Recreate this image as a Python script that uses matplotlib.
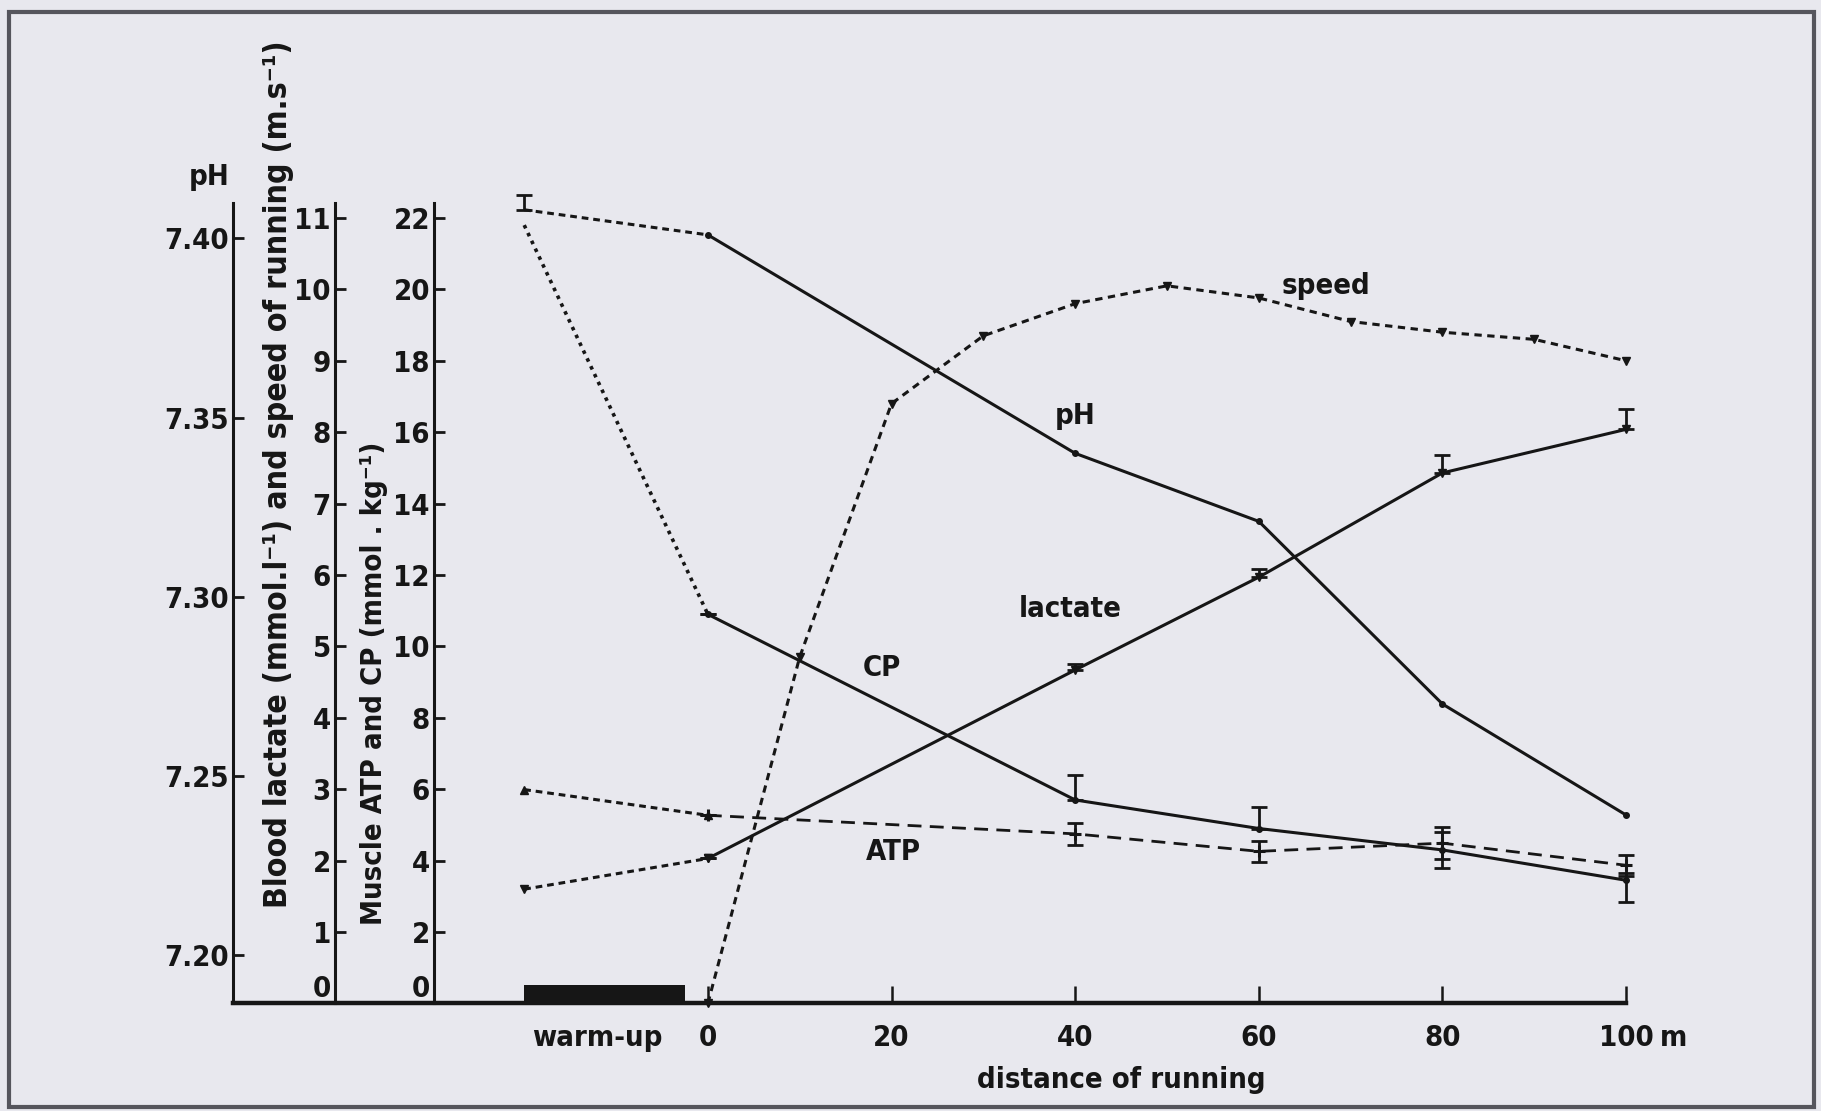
import matplotlib.pyplot as plt
from matplotlib.patches import Rectangle

plt.rcParams['font.family'] = ['DejaVu Sans']
plt.rcParams['font.stretch'] = 'condensed'
plt.rcParams['font.weight'] = 'bold'

# --- data ---
warmup_x = -20                      # where the warm-up values sit on the distance axis
warmup_bar = [-20, -2.5]
dist = [0, 40, 60, 80, 100]
speed_dist = [0, 10, 20, 30, 40, 50, 60, 70, 80, 90, 100]

ph_warmup = 7.408
ph_warmup_err = 0.004
ph = [7.401, 7.340, 7.321, 7.270, 7.239]

lactate_warmup = 1.6
lactate = [2.03, 4.67, 5.97, 7.43, 8.04]
lactate_err = [0.0, 0.08, 0.12, 0.25, 0.28]

speed = [0, 4.85, 8.4, 9.35, 9.8, 10.05, 9.88, 9.55, 9.4, 9.3, 9.0]

cp_warmup = 21.8
cp = [10.9, 5.7, 4.9, 4.3, 3.45]
cp_err_lo = [0, 0, 0, 0.5, 0.6]
cp_err_hi = [0, 0.7, 0.6, 0.5, 0.2]

atp_warmup = 5.99
atp = [5.27, 4.75, 4.26, 4.49, 3.87]
atp_err = [0, 0.3, 0.3, 0.45, 0.3]

ink = '#161616'
bg = '#e8e8ee'
fs = 21

fig = plt.figure(figsize=(18.21, 11.11), dpi=100, facecolor=bg)
ax = fig.add_axes([0.128, 0.0968, 0.765, 0.7205])   # pH axis
ax.patch.set_visible(False)
ax_lac = ax.twinx()                                  # lactate / speed
ax_atp = ax.twinx()                                  # ATP / CP

ax.set_xlim(-51.7, 100)
ax.set_ylim(7.1864, 7.4099)
ax_lac.set_ylim(0, 11.21)
ax_atp.set_ylim(0, 22.42)

for a, pos in [(ax, 0.0), (ax_lac, 0.0732), (ax_atp, 0.1443)]:
    for s in ['top', 'right']:
        a.spines[s].set_visible(False)
    a.spines['left'].set_visible(True)
    a.spines['left'].set_position(('axes', pos))
    a.spines['left'].set_linewidth(2.2)
    a.spines['left'].set_color(ink)
    a.yaxis.set_ticks_position('left')
    a.yaxis.set_label_position('left')
    a.tick_params(axis='y', direction='in', length=8, width=2, pad=3,
                  labelsize=fs, colors=ink)
for a in (ax_lac, ax_atp):
    a.spines['bottom'].set_visible(False)

ax.spines['bottom'].set_linewidth(3.2)
ax.spines['bottom'].set_color(ink)

ax.set_yticks([7.20, 7.25, 7.30, 7.35, 7.40])
ax.set_yticklabels(['7.20', '7.25', '7.30', '7.35', '7.40'])
ax_lac.set_yticks(range(0, 12))
ax_atp.set_yticks(range(0, 23, 2))
# the zero labels sit just above the distance axis
for a in (ax_lac, ax_atp):
    a.get_yticklabels()[0].set_va('bottom')

ax.set_xticks([0, 20, 40, 60, 80, 100])
ax.set_xticklabels(['0', '20', '40', '60', '80', '100'])
ax.tick_params(axis='x', direction='in', length=12, width=1.8, pad=15,
               labelsize=fs, colors=ink)
ax.annotate('m', xy=(100, 0), xycoords=('data', 'axes fraction'),
            xytext=(24, -15), textcoords='offset points', ha='left', va='top',
            fontsize=fs, color=ink)
ax.annotate('warm-up', xy=(-12, 0), xycoords=('data', 'axes fraction'),
            xytext=(0, -15), textcoords='offset points', ha='center', va='top',
            fontsize=fs, color=ink)
ax.annotate('distance of running', xy=(45, 0), xycoords=('data', 'axes fraction'),
            xytext=(0, -55), textcoords='offset points', ha='center', va='center',
            fontsize=fs, color=ink)

# warm-up bar on the distance axis
ax_lac.fill_between(warmup_bar, 0, 0.26, color=ink, lw=0)

# pH
ax.plot([warmup_x, dist[0]], [ph_warmup, ph[0]], color=ink, lw=2.2,
        dashes=(2.2, 1.6), clip_on=False)
ax.plot(dist, ph, color=ink, lw=2.2, marker='o', ms=4, clip_on=False)
ax.errorbar([warmup_x], [ph_warmup], yerr=[[0], [ph_warmup_err]], fmt='none',
            ecolor=ink, elinewidth=2, capsize=6, capthick=2, clip_on=False)

# CP and ATP
ax_atp.plot([warmup_x, dist[0]], [cp_warmup, cp[0]], color=ink, lw=2.6,
            dashes=(1.0, 1.4), clip_on=False)
ax_atp.plot(dist, cp, color=ink, lw=2.2, marker='o', ms=4, clip_on=False)
ax_atp.errorbar(dist, cp, yerr=[cp_err_lo, cp_err_hi], fmt='none', ecolor=ink,
                elinewidth=2, capsize=6, capthick=2, clip_on=False)

ax_atp.plot([warmup_x, dist[0]], [atp_warmup, atp[0]], color=ink, lw=2.2,
            dashes=(2.2, 1.6), marker='^', ms=6, clip_on=False)
ax_atp.plot(dist, atp, color=ink, lw=2.0, dashes=(5, 3), marker='+', ms=9,
            mew=2.2, clip_on=False)
ax_atp.errorbar(dist, atp, yerr=atp_err, fmt='none', ecolor=ink,
                elinewidth=2, capsize=6, capthick=2, clip_on=False)

# lactate and speed
ax_lac.plot([warmup_x, dist[0]], [lactate_warmup, lactate[0]], color=ink, lw=2.2,
            dashes=(2.2, 1.6), marker='v', ms=6, clip_on=False)
ax_lac.plot(dist, lactate, color=ink, lw=2.2, marker='v', ms=6, clip_on=False)
ax_lac.errorbar(dist, lactate, yerr=[[0] * len(lactate), lactate_err], fmt='none',
                ecolor=ink, elinewidth=2, capsize=6, capthick=2, clip_on=False)

ax_lac.plot(speed_dist, speed, color=ink, lw=2.2, dashes=(2.4, 1.8),
            marker='v', ms=6, clip_on=False)

# curve labels
for txt, x, y in [('speed', 67.3, 10.05), ('pH', 40.0, 8.22),
                  ('lactate', 39.5, 5.52), ('CP', 19.0, 4.70), ('ATP', 20.2, 2.12)]:
    ax_lac.text(x, y, txt, ha='center', va='center', fontsize=fs, color=ink)

# axis titles
fig.text(209 / 1821, 1 - 177 / 1111, 'pH', ha='center', va='center',
         fontsize=fs, color=ink)
fig.text(279 / 1821, 1 - 474 / 1111,
         'Blood lactate (mmol.l\u207b\u00b9) and speed of running (m.s\u207b\u00b9)',
         rotation=90, ha='center', va='center', fontsize=23, color=ink)
fig.text(374 / 1821, 1 - 683 / 1111, 'Muscle ATP and CP (mmol . kg\u207b\u00b9)',
         rotation=90, ha='center', va='center', fontsize=fs, color=ink)

# scanned page frame
fig.patches.append(Rectangle((9 / 1821, 4 / 1111), 1805 / 1821, 1095 / 1111,
                             transform=fig.transFigure, fill=False,
                             edgecolor='#55555c', lw=3))

fig.savefig('out.png', dpi=100, facecolor=bg)
